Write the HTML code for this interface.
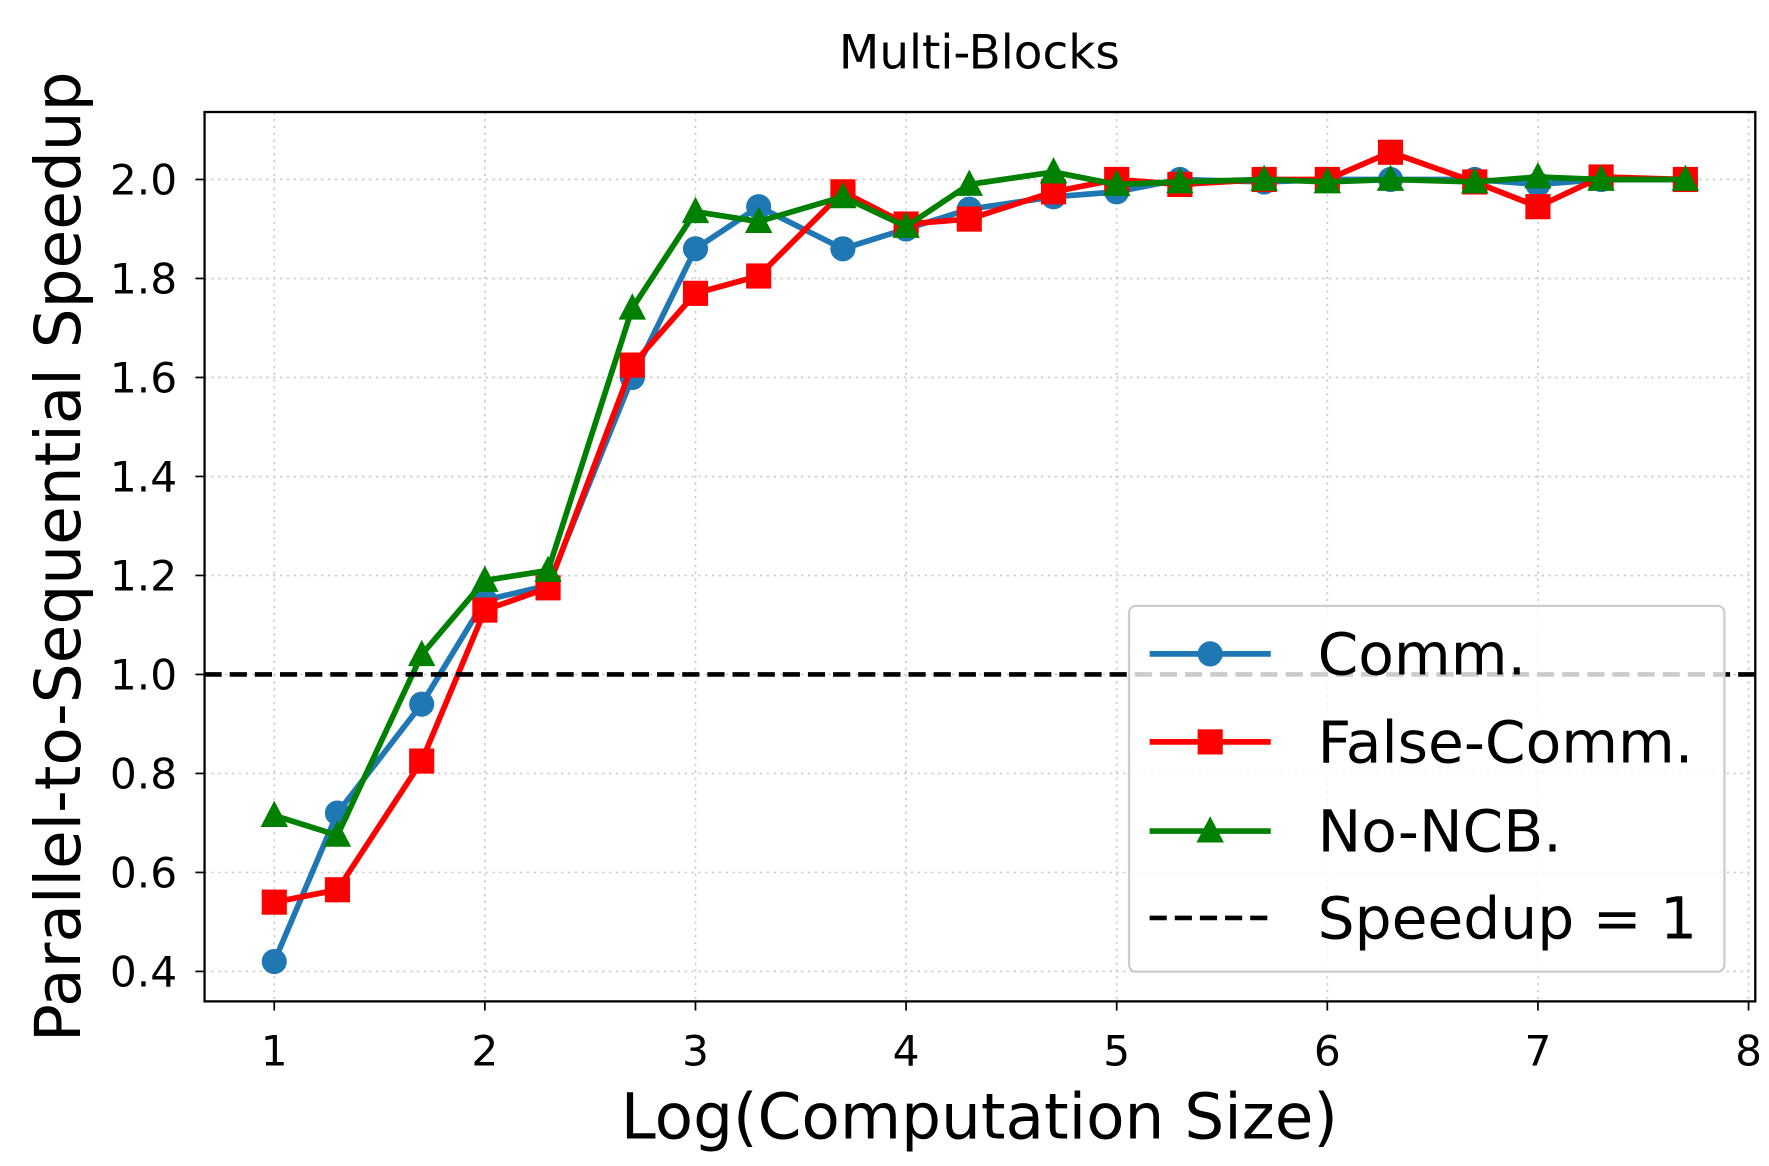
<!DOCTYPE html>
<html><head><meta charset="utf-8"><style>
html,body{margin:0;padding:0;background:#fff;}
svg{display:block;font-family:"DejaVu Sans","Liberation Sans",sans-serif;}
</style></head><body>
<svg id="s" width="1769" height="1166" viewBox="0 0 1548 1020" preserveAspectRatio="none" xmlns="http://www.w3.org/2000/svg">
<rect width="1548" height="1020" fill="#fff"/>
<g id="grid"></g>
<g id="data"></g>
<rect x="179" y="98" width="1357" height="778" fill="none" stroke="#000" stroke-width="2"/>
<g id="ticks"></g>
<text x="857" y="60" font-size="41" text-anchor="middle">Multi-Blocks</text>
<text x="857" y="996" font-size="55" text-anchor="middle">Log(Computation Size)</text>
<text transform="translate(70,487) rotate(-90)" font-size="55" text-anchor="middle">Parallel-to-Sequential Speedup</text>
<g id="legend"></g>
</svg>
<script>
const NS="http://www.w3.org/2000/svg";
function el(p,t,a,txt){const e=document.createElementNS(NS,t);for(const k in a)e.setAttribute(k,a[k]);if(txt!==undefined)e.textContent=txt;document.getElementById(p).appendChild(e);return e;}
const X=v=>240+(v-1)*184.3, Y=v=>157+(2-v)/0.2*86.6;
for(let i=1;i<=8;i++){el('grid','line',{x1:X(i),x2:X(i),y1:98,y2:876,stroke:'#ccc','stroke-width':1.5,'stroke-dasharray':'2,4'});
 el('ticks','line',{x1:X(i),x2:X(i),y1:876,y2:884,stroke:'#000','stroke-width':1.5});
 el('ticks','text',{x:X(i),y:932,'font-size':37,'text-anchor':'middle'},i);}
for(let k=0;k<=8;k++){const v=0.4+k*0.2;el('grid','line',{x1:179,x2:1536,y1:Y(v),y2:Y(v),stroke:'#ccc','stroke-width':1.5,'stroke-dasharray':'2,4'});
 el('ticks','line',{x1:171,x2:179,y1:Y(v),y2:Y(v),stroke:'#000','stroke-width':1.5});
 el('ticks','text',{x:155,y:Y(v)+13,'font-size':37,'text-anchor':'end'},v.toFixed(1));}
const xs=[1,1.3,1.7,2,2.3,2.7,3,3.3,3.7,4,4.3,4.7,5,5.3,5.7,6,6.3,6.7,7,7.3,7.7];
const comm=[0.42,0.72,0.94,1.15,1.18,1.60,1.86,1.945,1.86,1.90,1.94,1.965,1.975,2.0,1.995,2.0,2.0,2.0,1.99,2.0,2.0];
const fals=[0.54,0.565,0.825,1.13,1.175,1.625,1.77,1.805,1.975,1.91,1.92,1.975,2.0,1.99,2.0,2.0,2.055,1.995,1.945,2.005,2.0];
const ncb=[0.715,0.675,1.04,1.19,1.21,1.74,1.935,1.915,1.965,1.905,1.99,2.015,1.99,1.995,2.0,1.995,2.0,1.995,2.005,2.0,2.0];
function marker(g,t,x,y,c){if(t=='o')el(g,'circle',{cx:x,cy:y,r:11,fill:c});
 else if(t=='s')el(g,'rect',{x:x-11,y:y-11,width:22,height:22,fill:c});
 else el(g,'polygon',{points:`${x},${y-13} ${x-12},${y+10} ${x+12},${y+10}`,fill:c});}
function series(d,c,t){el('data','polyline',{points:xs.map((x,i)=>X(x)+','+Y(d[i])).join(' '),fill:'none',stroke:c,'stroke-width':5,'stroke-linejoin':'round'});
 xs.forEach((x,i)=>marker('data',t,X(x),Y(d[i]),c));}
series(comm,'#1f77b4','o');series(fals,'#ff0000','s');series(ncb,'#008000','^');
el('data','line',{x1:179,x2:1536,y1:Y(1),y2:Y(1),stroke:'#000','stroke-width':4,'stroke-dasharray':'15,7'});
el('legend','rect',{x:988,y:530,width:521,height:320,rx:6,fill:'#fff','fill-opacity':0.8,stroke:'#ccc','stroke-width':2});
const L=[['Comm.','#1f77b4','o',572],['False-Comm.','#ff0000','s',649],['No-NCB.','#008000','^',727]];
L.forEach(([n,c,t,y])=>{el('legend','line',{x1:1006,x2:1112,y1:y,y2:y,stroke:c,'stroke-width':5});marker('legend',t,1059,y,c);
 el('legend','text',{x:1153,y:y+18,'font-size':51},n);});
el('legend','line',{x1:1006,x2:1112,y1:803,y2:803,stroke:'#000','stroke-width':4,'stroke-dasharray':'15,7'});
el('legend','text',{x:1153,y:821,'font-size':51},'Speedup = 1');
</script>
</body></html>
